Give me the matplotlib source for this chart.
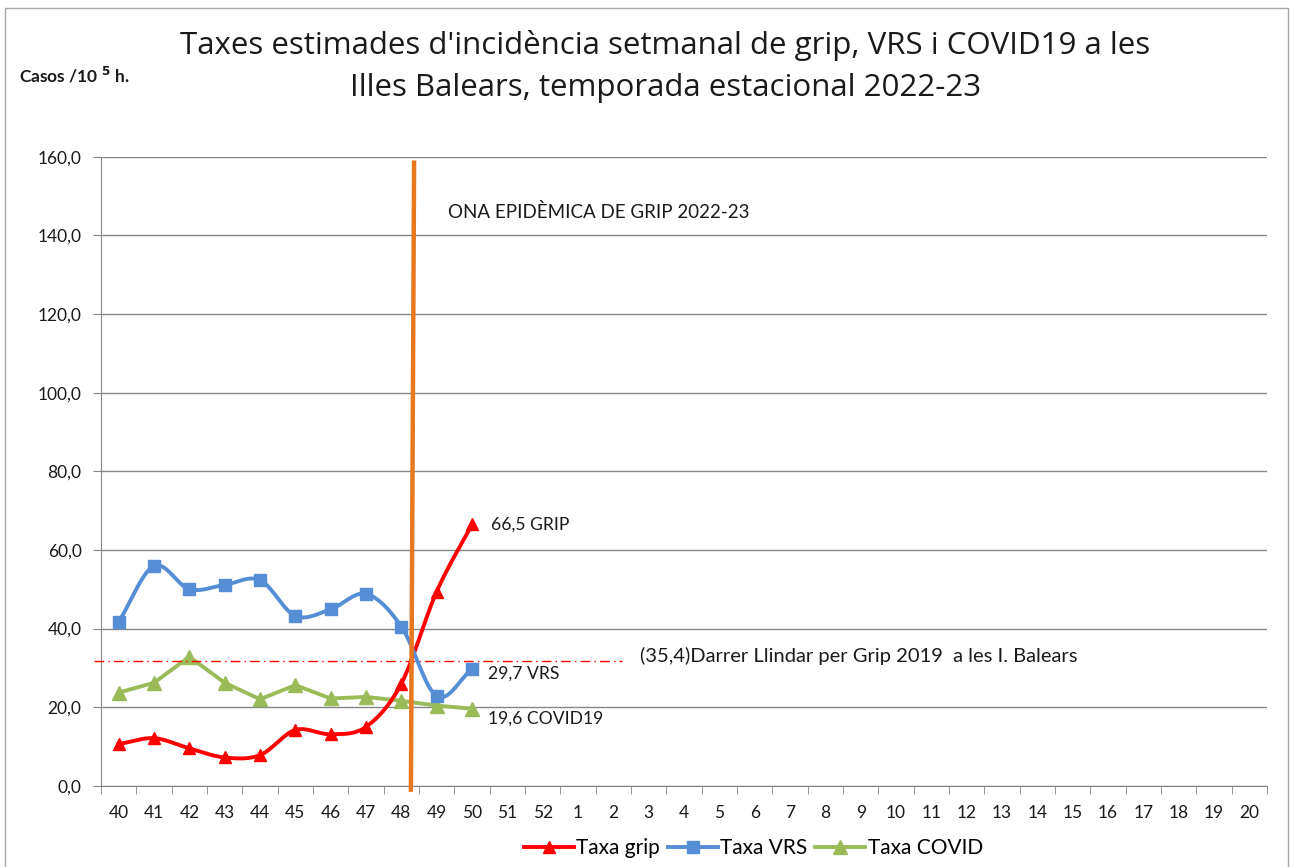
import matplotlib
matplotlib.use("Agg")
import matplotlib.pyplot as plt
import matplotlib.transforms as mtransforms
from matplotlib.patches import Rectangle
import numpy as np

plt.rcParams['font.family'] = ['Lato', 'DejaVu Sans']

# weeks of the season (40..52, then 1..20)
weeks = [str(w) for w in list(range(40, 53)) + list(range(1, 21))]

# weekly rates per 10^5 inhabitants, weeks 40-50
grip = [10.6, 12.1, 9.5, 7.2, 7.8, 14.2, 13.1, 15.0, 26.0, 49.4, 66.5]
vrs = [41.7, 55.9, 50.0, 51.1, 52.3, 43.2, 44.9, 48.8, 40.5, 22.8, 29.7]
covid = [23.7, 26.2, 32.8, 26.2, 22.0, 25.6, 22.2, 22.6, 21.6, 20.4, 19.6]

threshold = 31.8          # where the threshold line is drawn
wave_start = (8.36, 8.27)  # epidemic wave marker (top, bottom), category index

RED = '#FF0000'
BLUE = '#558ED5'
GREEN = '#9BBB59'
ORANGE = '#E8771E'
TXT = '#1a1a1a'


def smooth(x, y, n=20):
    # Catmull-Rom curve through the points, like Excel's smoothed lines
    x = np.asarray(x, float)
    y = np.asarray(y, float)
    px = np.concatenate([[2 * x[0] - x[1]], x, [2 * x[-1] - x[-2]]])
    py = np.concatenate([[2 * y[0] - y[1]], y, [2 * y[-1] - y[-2]]])
    xs, ys = [], []
    t = np.linspace(0, 1, n)
    for i in range(1, len(px) - 2):
        for p, out in ((px, xs), (py, ys)):
            p0, p1, p2, p3 = p[i - 1], p[i], p[i + 1], p[i + 2]
            out.extend(0.5 * (2 * p1 + (-p0 + p2) * t
                              + (2 * p0 - 5 * p1 + 4 * p2 - p3) * t ** 2
                              + (-p0 + 3 * p1 - 3 * p2 + p3) * t ** 3))
    return np.array(xs), np.array(ys)


fig = plt.figure(figsize=(12.92, 8.67), dpi=100)
ax = fig.add_axes([0.0782, 0.0937, 0.9025, 0.7255])

fig.patches.append(Rectangle((5 / 1292, -0.01), 1283 / 1292, 1 - 8 / 867 + 0.01,
                             transform=fig.transFigure, fill=False,
                             edgecolor='#A6A6A6', linewidth=1))

x = np.arange(len(grip))

gx, gy = smooth(x, grip)
ax.plot(gx, gy, color=RED, lw=2.8, zorder=4)
ax.plot(x, grip, ls='none', marker='^', ms=8.5, color=RED, zorder=5)

vx, vy = smooth(x, vrs)
ax.plot(vx, vy, color=BLUE, lw=2.8, zorder=4)
ax.plot(x, vrs, ls='none', marker='s', ms=8.5, color=BLUE, zorder=5)

ax.plot(x, covid, color=GREEN, lw=2.8, marker='^', ms=9.5, zorder=3)

# legend handles
h1, = ax.plot([], [], color=RED, lw=2.8, marker='^', ms=8.5, label='Taxa grip')
h2, = ax.plot([], [], color=BLUE, lw=2.8, marker='s', ms=8.5, label='Taxa VRS')
h3, = ax.plot([], [], color=GREEN, lw=2.8, marker='^', ms=9.5, label='Taxa COVID')

# threshold line (extends beyond the axes to the left)
trans = mtransforms.blended_transform_factory(ax.transAxes, ax.transData)
ax.plot([-0.006, 0.447], [threshold, threshold], transform=trans, color=RED,
        lw=1, ls=(0, (7, 3, 1, 3)), clip_on=False, zorder=3)
ax.text(0.462, threshold + 1.2, "(35,4)Darrer Llindar per Grip 2019  a les I. Balears",
        transform=trans, fontsize=14.5, va='center', ha='left', color=TXT)

# start of the epidemic wave
ax.plot(list(wave_start), [158.5, -1], color=ORANGE, lw=3.2, clip_on=False, zorder=6)
ax.text(9.33, 146, "ONA EPIDÈMICA DE GRIP 2022-23", fontsize=13.5, va='center',
        color=TXT)

# end labels
ax.text(10.55, 66.5, "66,5 GRIP", fontsize=12.6, va='center', color=TXT)
ax.text(10.45, 28.4, "29,7 VRS", fontsize=12.6, va='center', color=TXT)
ax.text(10.45, 17.0, "19,6 COVID19", fontsize=12.6, va='center', color=TXT)

ax.set_xlim(-0.5, len(weeks) - 0.5)
ax.set_ylim(0, 160)
ax.set_yticks(np.arange(0, 161, 20))
ax.set_yticklabels([f"{v:.1f}".replace('.', ',') for v in np.arange(0, 161, 20)],
                   fontsize=12.5, color=TXT)
ax.set_xticks(np.arange(len(weeks)))
ax.set_xticklabels(weeks, fontsize=12.5, color=TXT)
ax.set_xticks(np.arange(len(weeks) + 1) - 0.5, minor=True)
ax.tick_params(axis='x', which='major', length=0, pad=14)
ax.tick_params(axis='x', which='minor', length=6, color='#868686')
ax.tick_params(axis='y', length=6, color='#868686', pad=8)
ax.grid(axis='y', color='#868686', lw=1)
ax.set_axisbelow(True)
for s in ('top', 'right'):
    ax.spines[s].set_visible(False)
for s in ('left', 'bottom'):
    ax.spines[s].set_color('#868686')

fig.text(0.515, 0.948, "Taxes estimades d'incidència setmanal de grip, VRS i COVID19 a les",
         ha='center', va='center', fontsize=22.5, color=TXT,
         family=['Open Sans', 'DejaVu Sans'])
fig.text(0.515, 0.898, "Illes Balears, temporada estacional 2022-23",
         ha='center', va='center', fontsize=22.5, color=TXT,
         family=['Open Sans', 'DejaVu Sans'])
fig.text(0.015, 0.913, r"Casos /10 $^{\mathbf{5}}$ h.", fontsize=12.5, fontweight='bold',
         va='center', ha='left', color=TXT)

fig.legend(handles=[h1, h2, h3], loc='center', bbox_to_anchor=(0.583, 0.022), ncol=3,
           frameon=False, fontsize=15, handlelength=2.4, columnspacing=0.4,
           handletextpad=0.1)

fig.savefig('out.png', dpi=100)
